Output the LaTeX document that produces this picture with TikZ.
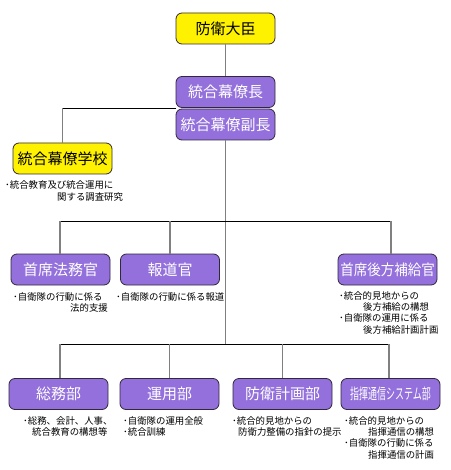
\documentclass[tikz,border=0pt]{standalone}
\usepackage{fontspec}
\usepackage{graphicx}
\newfontfamily\jp{Noto Sans CJK JP}
\definecolor{mpurple}{RGB}{147,112,219}
\definecolor{boxline}{RGB}{50,40,60}
\begin{document}
\begin{tikzpicture}[x=1pt,y=-1pt,
  box/.style={draw=boxline, rounded corners=6pt, minimum width=99pt, minimum height=31pt, inner sep=0pt, line width=0.8pt, font=\jp\fontsize{15}{15}\selectfont},
  ybox/.style={box, fill=yellow, text=black},
  pbox/.style={box, fill=mpurple, text=white},
  desc/.style={font=\jp\fontsize{9.4}{11}\selectfont, inner sep=0pt, anchor=west, text=black},
  vline/.style={draw=gray, line width=1.2pt},
  hline/.style={draw=black, line width=0.9pt}]
\useasboundingbox[fill=white] (0,0) rectangle (450,470);

% boxes
\node[ybox] (minister) at (225.5,28.5) {防衛大臣};
\node[pbox] (chief) at (225.5,92) {統合幕僚長};
\node[pbox] (vice) at (225.5,124.5) {統合幕僚副長};
\node[ybox] (school) at (62.5,158.5) {統合幕僚学校};
\node[pbox] (legal) at (60.5,269.5) {首席法務官};
\node[pbox] (press) at (170,269.5) {報道官};
\node[pbox] (logi) at (387.5,269.5) {\scalebox{0.9}[1]{首席後方補給官}};
\node[pbox] (admin) at (58.5,394) {総務部};
\node[pbox] (ops) at (169.5,394) {運用部};
\node[pbox] (plan) at (282.5,394) {防衛計画部};
\node[pbox] (c4) at (390.5,394) {\scalebox{0.6}[1]{指揮通信システム部}};

% bus coordinates
\coordinate (sj) at (176,108);
\coordinate (b1l) at (60,221);
\coordinate (b1r) at (391,221);
\coordinate (b2l) at (60,344);
\coordinate (b2r) at (389,344);

% connectors
\draw[vline] (minister) -- (chief);
\draw[hline] (sj) -- (school.north |- sj);
\draw[vline] (school.north |- sj) -- (school.north);
\draw[vline] (vice) -- (vice.south |- b2l);
\draw[hline] (b1l) -- (b1r);
\draw[vline] (b1l) -- (b1l |- legal.north);
\draw[vline] (press.north |- b1l) -- (press.north);
\draw[vline] (b1r) -- (b1r |- logi.north);
\draw[hline] (b2l) -- (b2r);
\draw[vline] (b2l) -- (b2l |- admin.north);
\draw[vline] (ops.north |- b2l) -- (ops.north);
\draw[vline] (plan.north |- b2l) -- (plan.north);
\draw[vline] (b2r) -- (b2r |- c4.north);

% descriptions
\node[desc] (s1) at (5,185) {･統合教育及び統合運用に};
\node[desc] (s2) at (57,197) {関する調査研究};
\node[desc] (l1) at (13,297) {･自衛隊の行動に係る};
\node[desc] (l2) at (70,308) {法的支援};
\node[desc] (p1) at (116,297) {･自衛隊の行動に係る報道};
\node[desc] (g1) at (339,296) {･統合的見地からの};
\node[desc] (g2) at (363,307) {後方補給の構想};
\node[desc] (g3) at (339,318) {･自衛隊の運用に係る};
\node[desc] (g4) at (363,330) {後方補給計画計画};
\node[desc] (a1) at (23,421) {･総務、会計、人事、};
\node[desc] (a2) at (32,432) {統合教育の構想等};
\node[desc] (o1) at (123,421) {･自衛隊の運用全般};
\node[desc] (o2) at (123,432) {･統合訓練};
\node[desc] (f1) at (232,421) {･統合的見地からの};
\node[desc] (f2) at (238,432) {防衛力整備の指針の提示};
\node[desc] (c1) at (344,421) {･統合的見地からの};
\node[desc] (c2) at (368,432) {指揮通信の構想};
\node[desc] (c3) at (344,443) {･自衛隊の行動に係る};
\node[desc] (c5) at (368,455) {指揮通信の計画};
\end{tikzpicture}
\end{document}
